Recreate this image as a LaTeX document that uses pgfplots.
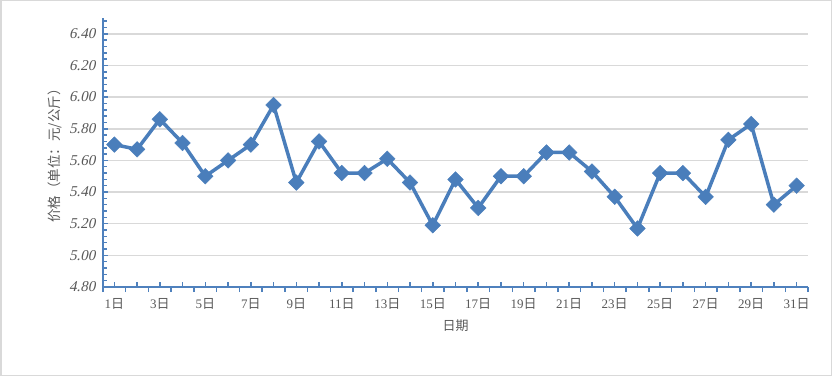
\documentclass[border=0pt]{standalone}
\usepackage{pgfplots}
\pgfplotsset{compat=1.18}
\usepackage{fontspec}
\setmainfont{Liberation Serif}
\newfontfamily\cjk{Noto Sans CJK SC}
\newfontfamily\slnum{Liberation Serif}[FakeSlant=0.22]
\definecolor{serblue}{HTML}{4A7EBB}
\definecolor{axblue}{HTML}{4F81BD}
\definecolor{gridgray}{HTML}{D9D9D9}
\definecolor{txtgray}{HTML}{595959}
\pgfplotstableread{
day price
1 5.70
2 5.67
3 5.86
4 5.71
5 5.50
6 5.60
7 5.70
8 5.95
9 5.46
10 5.72
11 5.52
12 5.52
13 5.61
14 5.46
15 5.19
16 5.48
17 5.30
18 5.50
19 5.50
20 5.65
21 5.65
22 5.53
23 5.37
24 5.17
25 5.52
26 5.52
27 5.37
28 5.73
29 5.83
30 5.32
31 5.44
}\pricedata
\begin{document}
\begin{tikzpicture}
\path (0,0) rectangle (832bp,376bp);
\draw[gridgray, line width=1.5bp] (0.75bp,0.75bp) rectangle (831.25bp,375.25bp);
\begin{axis}[
  at={(103bp,89bp)}, anchor=south west,
  scale only axis, width=705bp, height=269bp,
  xmin=0.5, xmax=31.5, ymin=4.8, ymax=6.5,
  axis lines=left,
  axis line style={-, axblue, line width=1.5bp},
  tick style={axblue, line width=1.5bp},
  tick align=inside,
  major tick length=5bp,
  minor tick length=4bp,
  xtick={1,...,31},
  xticklabels={{1\cjk 日},{},{3\cjk 日},{},{5\cjk 日},{},{7\cjk 日},{},{9\cjk 日},{},{11\cjk 日},{},{13\cjk 日},{},{15\cjk 日},{},{17\cjk 日},{},{19\cjk 日},{},{21\cjk 日},{},{23\cjk 日},{},{25\cjk 日},{},{27\cjk 日},{},{29\cjk 日},{},{31\cjk 日}},
  extra x ticks={0.5,1.5,...,31.5},
  extra x tick labels={},
  extra x tick style={tick align=outside, major tick length=5bp},
  ytick={4.8,5.0,5.2,5.4,5.6,5.8,6.0,6.2,6.4},
  yticklabels={4.80,5.00,5.20,5.40,5.60,5.80,6.00,6.20,6.40},
  minor ytick={4.84,4.88,...,6.48},
  ymajorgrids,
  major grid style={gridgray, line width=1.5bp},
  xticklabel style={font=\fontsize{13bp}{15bp}\selectfont, text=txtgray, yshift=-8bp},
  yticklabel style={font=\fontsize{15bp}{17bp}\selectfont\slnum, text=txtgray, xshift=-4bp},
  xlabel={\cjk 日期},
  ylabel={\cjk 价格（单位：元/公斤）},
  xlabel style={at={(axis description cs:0.5,-0.145)}, anchor=center, font=\fontsize{13bp}{15bp}\selectfont, text=txtgray},
  ylabel style={at={(axis description cs:-0.068,0.5)}, anchor=center, font=\fontsize{13.5bp}{15bp}\selectfont, text=txtgray},
  clip=false,
]
\addplot[serblue, line width=3.5bp, mark=square*, mark size=5.5bp,
  mark options={rotate=45, solid, fill=serblue, draw=serblue, line width=0.5bp}]
  table[x=day, y=price] {\pricedata};
\end{axis}
\end{tikzpicture}
\end{document}
